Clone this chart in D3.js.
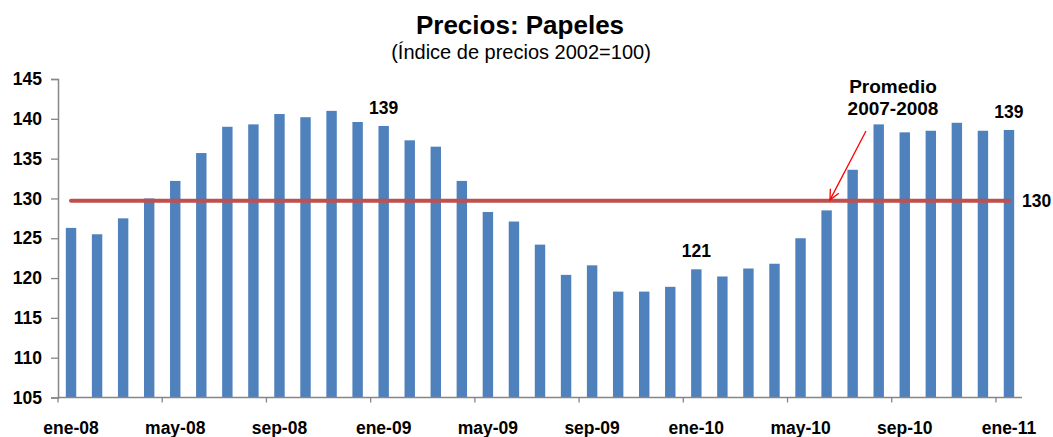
<!DOCTYPE html>
<html>
<head>
<meta charset="utf-8">
<script src="https://cdn.jsdelivr.net/npm/d3@7"></script>
<style>
  html, body { margin: 0; padding: 0; background: #fff; }
  svg { display: block; font-family: "Liberation Sans", Arial, sans-serif; }
</style>
</head>
<body>
<svg id="chart" width="1053" height="437"></svg>
<script>
// Monthly paper price index, Jan 2008 – Jan 2011
const months = [
  "ene-08","feb-08","mar-08","abr-08","may-08","jun-08","jul-08","ago-08","sep-08","oct-08","nov-08","dic-08",
  "ene-09","feb-09","mar-09","abr-09","may-09","jun-09","jul-09","ago-09","sep-09","oct-09","nov-09","dic-09",
  "ene-10","feb-10","mar-10","abr-10","may-10","jun-10","jul-10","ago-10","sep-10","oct-10","nov-10","dic-10",
  "ene-11"
];
const values = [
  126.3, 125.5, 127.5, 130.0, 132.2, 135.7, 139.0, 139.3, 140.6, 140.2, 141.0, 139.6,
  139.1, 137.3, 136.5, 132.2, 128.3, 127.1, 124.2, 120.4, 121.6, 118.3, 118.3, 118.9,
  121.1, 120.2, 121.2, 121.8, 125.0, 128.5, 133.6, 139.3, 138.3, 138.5, 139.5, 138.5,
  138.6
];
// Average level for 2007-2008
const average = 129.7;
const averageLabel = ["Promedio", "2007-2008"];
// Months whose value is written above the bar
const labelledMonths = ["ene-09", "ene-10", "ene-11"];
// Months shown on the horizontal axis
const axisMonths = ["ene-08","may-08","sep-08","ene-09","may-09","sep-09","ene-10","may-10","sep-10","ene-11"];
const yTicks = [105, 110, 115, 120, 125, 130, 135, 140, 145];
const title = "Precios: Papeles";
const subtitle = "(Índice de precios 2002=100)";

const svg = d3.select("#chart");
const axisColor = "#868686";
const barColor = "#4F81BD";
const lineColor = "#C0504D";

const x = d3.scaleBand().domain(months).range([58, 1022]).paddingInner(0.6).paddingOuter(0.3);
const y = d3.scaleLinear().domain([105, 145]).range([397.5, 79]);
const step = x.step();
const bandEdge = m => x(m) - step * x.paddingInner() / 2;

// Titles
svg.append("text").attr("x", 520).attr("y", 34).attr("text-anchor", "middle")
  .attr("font-size", 26).attr("font-weight", "bold").attr("fill", "#000").text(title);
svg.append("text").attr("x", 521).attr("y", 59).attr("text-anchor", "middle")
  .attr("font-size", 20).attr("fill", "#000").text(subtitle);

// Y axis
const yAxis = svg.append("g").attr("transform", "translate(58,0)")
  .call(d3.axisLeft(y).tickValues(yTicks).tickSize(7).tickPadding(9).tickFormat(d3.format("d")));
yAxis.select(".domain").attr("stroke", axisColor).attr("stroke-width", 1.5);
yAxis.selectAll(".tick line").attr("stroke", axisColor).attr("stroke-width", 1.3);
yAxis.selectAll(".tick text").attr("font-size", 17.5).attr("font-weight", "bold").attr("fill", "#000")
  .attr("font-family", "Liberation Sans, Arial, sans-serif");

// Bars
svg.append("g").selectAll("rect").data(months).join("rect")
  .attr("x", m => x(m))
  .attr("width", x.bandwidth())
  .attr("y", (m, i) => y(values[i]))
  .attr("height", (m, i) => y(105) - y(values[i]))
  .attr("fill", barColor);

// X axis: ticks at band edges, labels at band centres
const xg = svg.append("g");
xg.append("line").attr("x1", 58).attr("x2", 1022).attr("y1", y(105)).attr("y2", y(105))
  .attr("stroke", axisColor).attr("stroke-width", 1.5);
xg.selectAll("line.tick").data(axisMonths).join("line").attr("class", "tick")
  .attr("x1", m => bandEdge(m)).attr("x2", m => bandEdge(m))
  .attr("y1", y(105)).attr("y2", y(105) + 5)
  .attr("stroke", axisColor).attr("stroke-width", 1.3);
xg.selectAll("text").data(axisMonths).join("text")
  .attr("x", m => x(m) + x.bandwidth() / 2).attr("y", 434)
  .attr("text-anchor", "middle").attr("font-size", 17.5).attr("font-weight", "bold").attr("fill", "#000")
  .text(m => m);

// Average line
const firstC = x(months[0]) + x.bandwidth() / 2;
const lastC = x(months[months.length - 1]) + x.bandwidth() / 2;
svg.append("line").attr("x1", firstC).attr("x2", lastC).attr("y1", y(average)).attr("y2", y(average))
  .attr("stroke", lineColor).attr("stroke-width", 4).attr("stroke-linecap", "round");
svg.append("text").attr("x", 1022).attr("y", y(average) + 6.5)
  .attr("font-size", 17.5).attr("font-weight", "bold").attr("fill", "#000")
  .text(d3.format(".0f")(average));

// Value labels above selected bars
svg.append("g").selectAll("text").data(labelledMonths).join("text")
  .attr("x", m => x(m) + x.bandwidth() / 2)
  .attr("y", m => y(values[months.indexOf(m)]) - 12)
  .attr("text-anchor", "middle").attr("font-size", 17.5).attr("font-weight", "bold").attr("fill", "#000")
  .text(m => d3.format(".0f")(values[months.indexOf(m)]));

// Annotation with arrow pointing at the average line
const ann = svg.append("g");
ann.selectAll("text").data(averageLabel).join("text")
  .attr("x", 893).attr("y", (d, i) => 93 + i * 22)
  .attr("text-anchor", "middle").attr("font-size", 19).attr("font-weight", "bold").attr("fill", "#000")
  .text(d => d);
const ax1 = 866, ay1 = 131, ax2 = 830, ay2 = y(average) - 1;
ann.append("line").attr("x1", ax1).attr("y1", ay1).attr("x2", ax2).attr("y2", ay2)
  .attr("stroke", "#FF0000").attr("stroke-width", 1.3);
const ang = Math.atan2(ay2 - ay1, ax2 - ax1);
const head = 11, spread = 0.45;
ann.append("path")
  .attr("d", `M${ax2 - head * Math.cos(ang - spread)},${ay2 - head * Math.sin(ang - spread)}L${ax2},${ay2}L${ax2 - head * Math.cos(ang + spread)},${ay2 - head * Math.sin(ang + spread)}`)
  .attr("fill", "none").attr("stroke", "#FF0000").attr("stroke-width", 1.3);
</script>
</body>
</html>
